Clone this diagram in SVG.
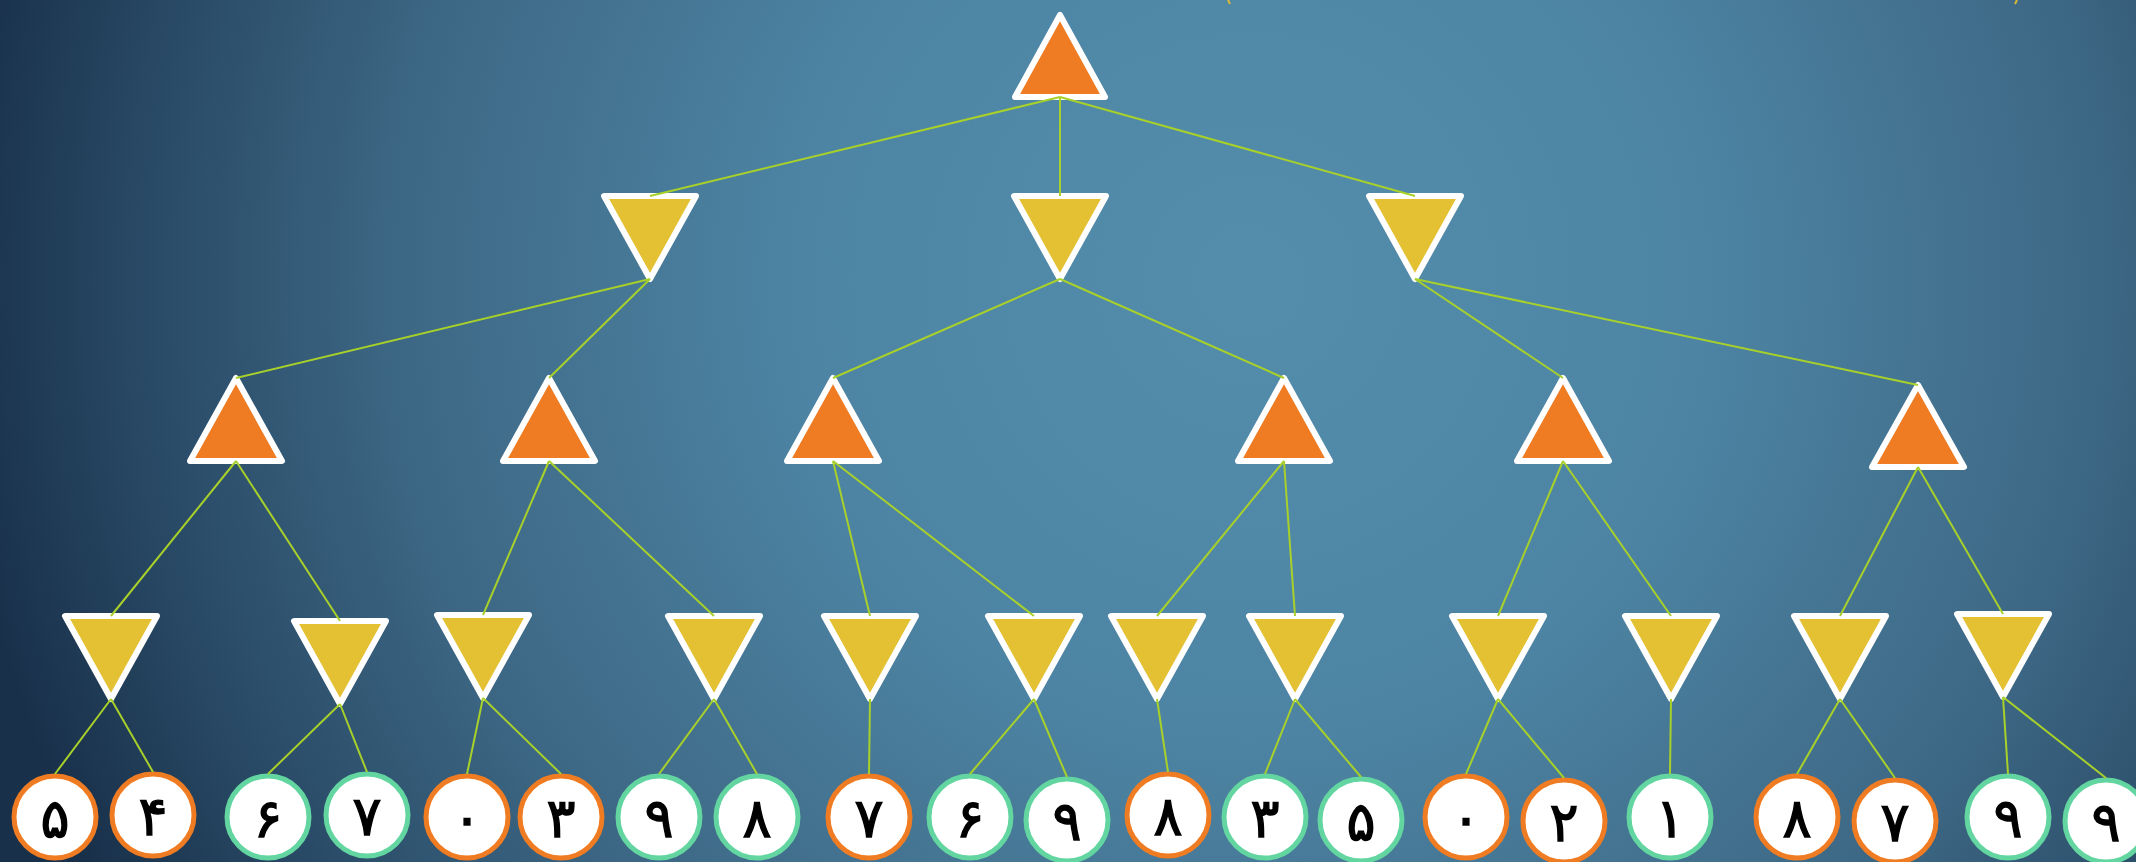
<svg xmlns="http://www.w3.org/2000/svg" width="2136" height="862" viewBox="0 0 2136 862">
<defs>
<radialGradient id="bg" gradientUnits="userSpaceOnUse" cx="1250" cy="280" r="1300">
<stop offset="0" stop-color="#548dac"/>
<stop offset="0.35" stop-color="#4d84a3"/>
<stop offset="0.65" stop-color="#3d6885"/>
<stop offset="0.85" stop-color="#294a66"/>
<stop offset="1" stop-color="#19304a"/>
</radialGradient>
<style>
.max{fill:#ef7c22;stroke:#fff;stroke-width:6;stroke-linejoin:round}
.min{fill:#e4c033;stroke:#fff;stroke-width:6;stroke-linejoin:round}
.lo{fill:#fff;stroke:#ef7c22;stroke-width:5}
.lg{fill:#fff;stroke:#62d5a0;stroke-width:5}
.t{font-family:"DejaVu Sans",sans-serif;font-size:54px;fill:#000;stroke:#000;stroke-width:1.4;text-anchor:middle}
.c line{stroke:#a8d02a;stroke-width:2}
.mark{stroke:#dcb834;stroke-width:2;fill:none}
</style>
</defs>
<rect width="2136" height="862" fill="url(#bg)"/>
<path class="mark" d="M1228,0 L1230,4"/>
<path class="mark" d="M2017,0 L2015,4"/>

<g id="root"><polygon class="max" points="1060,15 1105,97 1015,97"/></g>

<g id="n1a"><polygon class="min" points="604,196 696,196 650,279"/></g>
<g id="n1b"><polygon class="min" points="1014,196 1106,196 1060,279"/></g>
<g id="n1c"><polygon class="min" points="1369,196 1461,196 1415,279"/></g>

<g id="n2a"><polygon class="max" points="236,378 282,461 190,461"/></g>
<g id="n2b"><polygon class="max" points="549,378 595,461 503,461"/></g>
<g id="n2c"><polygon class="max" points="833,378 879,461 787,461"/></g>
<g id="n2d"><polygon class="max" points="1284,378 1330,461 1238,461"/></g>
<g id="n2e"><polygon class="max" points="1563,378 1609,461 1517,461"/></g>
<g id="n2f"><polygon class="max" points="1918,385 1964,467 1872,467"/></g>

<g id="n3a"><polygon class="min" points="65,616 157,616 111,699"/></g>
<g id="n3b"><polygon class="min" points="294,621 386,621 340,704"/></g>
<g id="n3c"><polygon class="min" points="437,615 529,615 483,698"/></g>
<g id="n3d"><polygon class="min" points="668,616 760,616 714,699"/></g>
<g id="n3e"><polygon class="min" points="824,616 916,616 870,699"/></g>
<g id="n3f"><polygon class="min" points="988,616 1080,616 1034,699"/></g>
<g id="n3g"><polygon class="min" points="1111,616 1203,616 1157,699"/></g>
<g id="n3h"><polygon class="min" points="1249,616 1341,616 1295,699"/></g>
<g id="n3i"><polygon class="min" points="1452,616 1544,616 1498,699"/></g>
<g id="n3j"><polygon class="min" points="1625,616 1717,616 1671,699"/></g>
<g id="n3k"><polygon class="min" points="1794,616 1886,616 1840,699"/></g>
<g id="n3l"><polygon class="min" points="1957,614 2049,614 2003,697"/></g>

<g id="leaf1"><ellipse class="lo" cx="55" cy="817" rx="41" ry="41"/><text class="t" x="55" y="837">۵</text></g>
<g id="leaf2"><ellipse class="lo" cx="153" cy="815" rx="41" ry="41"/><text class="t" x="153" y="835">۴</text></g>
<g id="leaf3"><ellipse class="lg" cx="268" cy="817" rx="41" ry="41"/><text class="t" x="268" y="837">۶</text></g>
<g id="leaf4"><ellipse class="lg" cx="367" cy="815" rx="41" ry="41"/><text class="t" x="367" y="835">۷</text></g>
<g id="leaf5"><ellipse class="lo" cx="467" cy="817" rx="41" ry="41"/><text class="t" x="467" y="837">۰</text></g>
<g id="leaf6"><ellipse class="lo" cx="561" cy="817" rx="41" ry="41"/><text class="t" x="561" y="837">۳</text></g>
<g id="leaf7"><ellipse class="lg" cx="659" cy="817" rx="41" ry="41"/><text class="t" x="659" y="837">۹</text></g>
<g id="leaf8"><ellipse class="lg" cx="757" cy="817" rx="41" ry="41"/><text class="t" x="757" y="837">۸</text></g>
<g id="leaf9"><ellipse class="lo" cx="869" cy="817" rx="41" ry="41"/><text class="t" x="869" y="837">۷</text></g>
<g id="leaf10"><ellipse class="lg" cx="970" cy="817" rx="41" ry="41"/><text class="t" x="970" y="837">۶</text></g>
<g id="leaf11"><ellipse class="lg" cx="1067" cy="820" rx="41" ry="41"/><text class="t" x="1067" y="840">۹</text></g>
<g id="leaf12"><ellipse class="lo" cx="1168" cy="815" rx="41" ry="41"/><text class="t" x="1168" y="835">۸</text></g>
<g id="leaf13"><ellipse class="lg" cx="1265" cy="817" rx="41" ry="41"/><text class="t" x="1265" y="837">۳</text></g>
<g id="leaf14"><ellipse class="lg" cx="1361" cy="820" rx="41" ry="41"/><text class="t" x="1361" y="840">۵</text></g>
<g id="leaf15"><ellipse class="lo" cx="1466" cy="817" rx="41" ry="41"/><text class="t" x="1466" y="837">۰</text></g>
<g id="leaf16"><ellipse class="lo" cx="1564" cy="821" rx="41" ry="41"/><text class="t" x="1564" y="841">۲</text></g>
<g id="leaf17"><ellipse class="lg" cx="1670" cy="817" rx="41" ry="41"/><text class="t" x="1670" y="837">۱</text></g>
<g id="leaf18"><ellipse class="lo" cx="1797" cy="817" rx="41" ry="41"/><text class="t" x="1797" y="837">۸</text></g>
<g id="leaf19"><ellipse class="lo" cx="1895" cy="821" rx="41" ry="41"/><text class="t" x="1895" y="841">۷</text></g>
<g id="leaf20"><ellipse class="lg" cx="2008" cy="817" rx="41" ry="41"/><text class="t" x="2008" y="837">۹</text></g>
<g id="leaf21"><ellipse class="lg" cx="2106" cy="821" rx="41" ry="41"/><text class="t" x="2106" y="841">۹</text></g>

<g id="connectors" class="c">
<line x1="1060" y1="97" x2="650" y2="196"/>
<line x1="1060" y1="97" x2="1060" y2="196"/>
<line x1="1060" y1="97" x2="1415" y2="196"/>
<line x1="650" y1="279" x2="236" y2="378"/>
<line x1="650" y1="279" x2="549" y2="378"/>
<line x1="1060" y1="279" x2="833" y2="378"/>
<line x1="1060" y1="279" x2="1284" y2="378"/>
<line x1="1415" y1="279" x2="1563" y2="378"/>
<line x1="1415" y1="279" x2="1918" y2="385"/>
<line x1="236" y1="461" x2="111" y2="616"/>
<line x1="236" y1="461" x2="340" y2="621"/>
<line x1="549" y1="461" x2="483" y2="615"/>
<line x1="549" y1="461" x2="714" y2="616"/>
<line x1="833" y1="461" x2="870" y2="616"/>
<line x1="833" y1="461" x2="1034" y2="616"/>
<line x1="1284" y1="461" x2="1157" y2="616"/>
<line x1="1284" y1="461" x2="1295" y2="616"/>
<line x1="1563" y1="461" x2="1498" y2="616"/>
<line x1="1563" y1="461" x2="1671" y2="616"/>
<line x1="1918" y1="467" x2="1840" y2="616"/>
<line x1="1918" y1="467" x2="2003" y2="614"/>
<line x1="111" y1="699" x2="55" y2="774"/>
<line x1="111" y1="699" x2="153" y2="772"/>
<line x1="340" y1="704" x2="268" y2="774"/>
<line x1="340" y1="704" x2="367" y2="772"/>
<line x1="483" y1="698" x2="467" y2="774"/>
<line x1="483" y1="698" x2="561" y2="774"/>
<line x1="714" y1="699" x2="659" y2="774"/>
<line x1="714" y1="699" x2="757" y2="774"/>
<line x1="870" y1="699" x2="869" y2="774"/>
<line x1="1034" y1="699" x2="970" y2="774"/>
<line x1="1034" y1="699" x2="1067" y2="777"/>
<line x1="1157" y1="699" x2="1168" y2="772"/>
<line x1="1295" y1="699" x2="1265" y2="774"/>
<line x1="1295" y1="699" x2="1361" y2="777"/>
<line x1="1498" y1="699" x2="1466" y2="774"/>
<line x1="1498" y1="699" x2="1564" y2="778"/>
<line x1="1671" y1="699" x2="1670" y2="774"/>
<line x1="1840" y1="699" x2="1797" y2="774"/>
<line x1="1840" y1="699" x2="1895" y2="778"/>
<line x1="2003" y1="697" x2="2008" y2="774"/>
<line x1="2003" y1="697" x2="2106" y2="778"/>
</g>
</svg>
